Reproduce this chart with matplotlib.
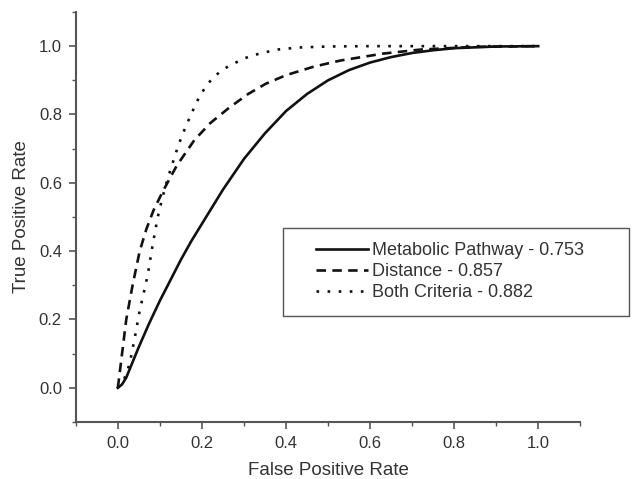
import numpy as np
import matplotlib.pyplot as plt
from matplotlib.patches import Rectangle
from matplotlib.ticker import MultipleLocator

plt.rcParams['font.family'] = ['Liberation Sans', 'DejaVu Sans']

# ROC curves
fpr_metabolic = [0.0, 0.01, 0.02, 0.03, 0.05, 0.075, 0.10, 0.125, 0.15, 0.175, 0.20,
                 0.25, 0.30, 0.35, 0.40, 0.45, 0.50, 0.55, 0.60, 0.65, 0.70, 0.75,
                 0.80, 0.90, 1.00]
tpr_metabolic = [0.0, 0.01, 0.03, 0.06, 0.12, 0.19, 0.255, 0.315, 0.375, 0.43, 0.48,
                 0.58, 0.67, 0.745, 0.81, 0.86, 0.90, 0.93, 0.952, 0.968, 0.98, 0.988,
                 0.994, 0.999, 1.00]

fpr_distance = [0.0, 0.005, 0.01, 0.02, 0.035, 0.052, 0.068, 0.085, 0.107, 0.14,
                0.182, 0.22, 0.265, 0.31, 0.352, 0.40, 0.466, 0.53, 0.63, 0.72,
                0.85, 1.00]
tpr_distance = [0.0, 0.05, 0.10, 0.20, 0.30, 0.40, 0.465, 0.52, 0.575, 0.65,
                0.725, 0.775, 0.82, 0.86, 0.89, 0.915, 0.94, 0.958, 0.978, 0.99,
                0.998, 1.00]

fpr_both = [0.0, 0.015, 0.028, 0.04, 0.052, 0.062, 0.071, 0.083, 0.095, 0.106,
            0.118, 0.13, 0.144, 0.158, 0.174, 0.19, 0.207, 0.225, 0.25, 0.277,
            0.305, 0.336, 0.38, 0.43, 0.50, 0.60, 1.00]
tpr_both = [0.0, 0.025, 0.07, 0.145, 0.226, 0.28, 0.33, 0.42, 0.50, 0.557,
            0.61, 0.657, 0.71, 0.754, 0.80, 0.842, 0.878, 0.906, 0.932, 0.95,
            0.966, 0.978, 0.99, 0.996, 0.999, 1.00, 1.00]

labels = ['Metabolic Pathway - 0.753', 'Distance - 0.857', 'Both Criteria - 0.882']

axis_col = '#555555'
text_col = '#333333'
line_col = '#111111'

fig = plt.figure(figsize=(6.37, 4.79), dpi=100)
ax = fig.add_axes([0.119, 0.119, 0.792, 0.856])

ax.plot(fpr_metabolic, tpr_metabolic, color=line_col, lw=1.9, ls='-', label=labels[0])
ax.plot(fpr_distance, tpr_distance, color=line_col, lw=1.9, ls=(0, (3.6, 2.4)), label=labels[1])
ax.plot(fpr_both, tpr_both, color=line_col, lw=1.9, ls=(0, (1, 3.2)), label=labels[2])

ax.set_xlim(-0.1, 1.1)
ax.set_ylim(-0.1, 1.1)
ax.xaxis.set_minor_locator(MultipleLocator(0.1))
ax.yaxis.set_minor_locator(MultipleLocator(0.1))
ax.set_xticks([0.0, 0.2, 0.4, 0.6, 0.8, 1.0])
ax.set_yticks([0.0, 0.2, 0.4, 0.6, 0.8, 1.0])

for side in ['top', 'right']:
    ax.spines[side].set_visible(False)
for side in ['left', 'bottom']:
    ax.spines[side].set_color(axis_col)
    ax.spines[side].set_linewidth(1.5)

ax.tick_params(which='major', direction='out', length=5, width=1.2, color=axis_col,
               labelsize=12, labelcolor=text_col, pad=5)
ax.tick_params(which='minor', direction='out', length=3, width=1.0, color=axis_col)

ax.set_xlabel('False Positive Rate', fontsize=13.5, color=text_col, labelpad=8)
ax.set_ylabel('True Positive Rate', fontsize=13.5, color=text_col, labelpad=6)

# legend frame drawn separately so it can run past the axis end like the original
ax.add_patch(Rectangle((0.411, 0.259), 0.686, 0.214, transform=ax.transAxes,
                       fill=False, edgecolor=axis_col, lw=1.0, clip_on=False))
leg = ax.legend(loc='upper left', bbox_to_anchor=(0.476, 0.438), fontsize=13,
                frameon=False, handlelength=2.9, handletextpad=0.2,
                labelspacing=0.22, borderpad=0, borderaxespad=0)
for t in leg.get_texts():
    t.set_color(text_col)

fig.savefig('out.png', dpi=100)
